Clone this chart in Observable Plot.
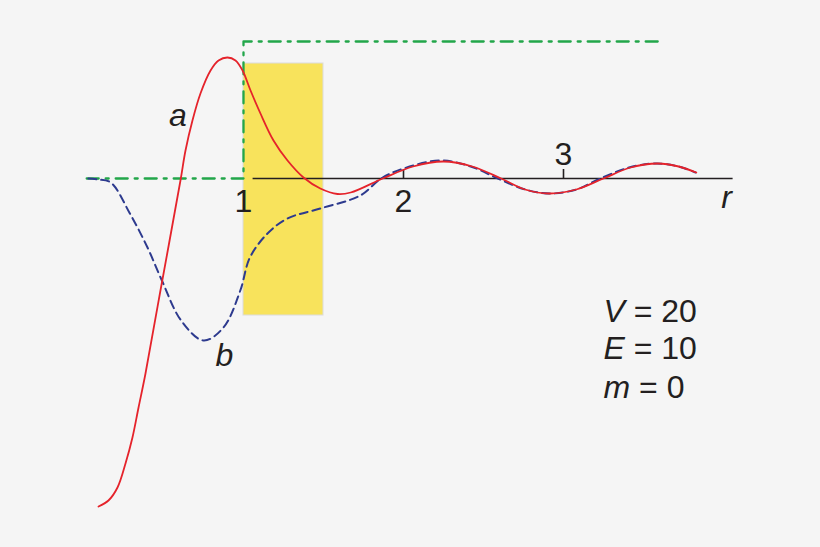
<!DOCTYPE html>
<html><head><meta charset="utf-8">
<script src="https://cdn.jsdelivr.net/npm/d3@7"></script>
<script src="https://cdn.jsdelivr.net/npm/@observablehq/plot@0.6"></script>
<style>
html,body{margin:0;padding:0;background:#f5f5f5;}
svg{display:block;}
.params text{white-space:pre;}
</style>
</head><body><div id="chart"></div>
<script>
// curve a (red, solid)
const redX = [0.094,0.156,0.2125,0.2625,0.306,0.344,0.3875,0.481,0.606,0.6375,0.681,0.731,0.794,0.844,0.9,0.95,0.994,1.044,1.106,1.1875,1.275,1.375,1.48,1.5875,1.67,1.87,2.06,2.25,2.43,2.61,2.76,2.91,3.08,3.25,3.42,3.59,3.72,3.83];
const redY = [-3.28,-3.22,-3.09,-2.85,-2.59,-2.29,-1.95,-1.12,-0.02,0.28,0.58,0.85,1.08,1.18,1.21,1.18,1.08,0.88,0.65,0.38,0.18,0.01,-0.10,-0.155,-0.14,0,0.12,0.17,0.12,0,-0.11,-0.15,-0.11,0,0.11,0.15,0.12,0.06];
// curve b (blue, dashed)
const blueX = [0.03,0.09,0.17,0.29,0.40,0.49,0.61,0.75,0.875,0.98,1.04,1.15,1.275,1.48,1.73,1.86,2.0,2.23,2.42,2.59,2.76,2.92,3.08,3.23,3.41,3.575,3.72,3.825];
const blueY = [0,-0.01,-0.04,-0.35,-0.69,-1.02,-1.42,-1.62,-1.49,-1.12,-0.79,-0.55,-0.40,-0.30,-0.17,0,0.10,0.18,0.12,0,-0.11,-0.15,-0.11,0,0.11,0.15,0.12,0.06];
// potential step (green dash-dot)
const potX = [0.02,1,1,3.6];
const potY = [0,0,1.37,1.37];
// shaded region
const regionX = [1,1.5];
const regionY = [-1.37,1.15];
// axis
const axisRange = [1.06,4.06];
const tickValues = [2,3];
const tickLabelValues = [1,2,3];
const tickLabels = ["1","2","3"];
const tickLabelY = [-0.33,-0.33,0.14];
// labels
const curveLabels = ["a","b"];
const curveLabelX = [0.59,0.88];
const curveLabelY = [0.53,-1.87];
const params = ["V = 20","E = 10","m = 0"];
const paramY = [-1.43,-1.80,-2.19];

const red = redX.map((x,i)=>({x,y:redY[i]}));
const blue = blueX.map((x,i)=>({x,y:blueY[i]}));
const pot = potX.map((x,i)=>({x,y:potY[i]}));

const font = "'Liberation Sans', Arial, Helvetica, sans-serif";
const ink = "#231f20";

const chart = Plot.plot({
  width: 820, height: 547,
  marginLeft: 0, marginRight: 0, marginTop: 0, marginBottom: 0,
  x: {domain: [-83/160, (820-83)/160], axis: null},
  y: {domain: [(178-547)/100, 178/100], axis: null},
  style: {background: "#f5f5f5", fontFamily: font},
  marks: [
    Plot.rect([{x1: regionX[0], x2: regionX[1], y1: regionY[0], y2: regionY[1]}],
      {x1:"x1", x2:"x2", y1:"y1", y2:"y2", fill:"#f8e35c", stroke:"#dcdcdc", strokeWidth:1}),
    Plot.ruleY([0], {x1: axisRange[0], x2: axisRange[1], stroke: "#231f20", strokeWidth: 1.6}),
    Plot.ruleX(tickValues, {y1: 0, y2: 0.09, stroke: "#231f20", strokeWidth: 1.6}),
    Plot.line(pot, {x:"x", y:"y", stroke:"#22a64a", strokeWidth:2.3, strokeDasharray:"12,7,3,7", curve:"linear"}),
    Plot.line(blue, {x:"x", y:"y", stroke:"#2d3a8e", strokeWidth:2, strokeDasharray:"8,5", curve:"catmull-rom"}),
    Plot.line(red, {x:"x", y:"y", stroke:"#e5232b", strokeWidth:1.8, curve:"catmull-rom"}),
    Plot.text(tickLabels, {x:(d,i)=>tickLabelValues[i], y:(d,i)=>tickLabelY[i], text:d=>d,
      fontSize:32, fill:ink, lineAnchor:"bottom", textAnchor:"middle"}),
    Plot.text(["r"], {x:4.02, y:-0.29, text:d=>d, fontSize:32, fontStyle:"italic", fill:ink, lineAnchor:"bottom", textAnchor:"middle"}),
    Plot.text(curveLabels, {x:(d,i)=>curveLabelX[i], y:(d,i)=>curveLabelY[i], text:d=>d,
      fontSize:32, fontStyle:"italic", fill:ink, lineAnchor:"bottom", textAnchor:"middle"}),
    Plot.text(params, {x:3.25, y:(d,i)=>paramY[i], text:d=>d, fontSize:32, fill:ink,
      lineAnchor:"bottom", textAnchor:"start", className:"params"})
  ]
});

// italicise the variable name in each parameter label
d3.select(chart).selectAll(".params text").each(function(){
  const s = this.textContent;
  const el = d3.select(this);
  el.text(null);
  el.append("tspan").attr("font-style","italic").text(s.slice(0,1));
  el.append("tspan").attr("xml:space","preserve").text(s.slice(1));
});

document.getElementById("chart").append(chart);
</script>
</body></html>
